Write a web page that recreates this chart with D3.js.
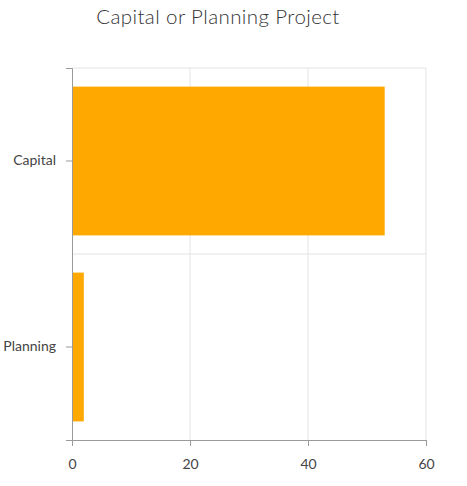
<!DOCTYPE html>
<html>
<head>
<meta charset="utf-8">
<script src="https://cdn.jsdelivr.net/npm/d3@7"></script>
<style>
  html, body { margin: 0; padding: 0; background: #fff; }
  svg { display: block; }
</style>
</head>
<body>
<svg id="chart" width="467" height="486"></svg>
<script>
const categories = ["Capital", "Planning"];
const values = [53, 2];
const xTicks = [0, 20, 40, 60];
const title = "Capital or Planning Project";

const svg = d3.select("#chart");
const margin = { left: 72, right: 41, top: 68, bottom: 46 };
const W = 467, H = 486;
const x = d3.scaleLinear().domain([0, 60]).range([margin.left, W - margin.right]);
const y = d3.scaleBand().domain(categories).range([margin.top, H - margin.bottom])
  .paddingInner(0.2).paddingOuter(0.1);

const font = "Lato, 'Open Sans', sans-serif";

svg.append("text")
  .attr("x", 218).attr("y", 24)
  .attr("text-anchor", "middle")
  .attr("font-family", font)
  .attr("font-size", 20.5)
  .attr("font-weight", 300)
  .attr("letter-spacing", 0.4)
  .attr("fill", "#333")
  .text(title);

// grid
const g = svg.append("g");
g.selectAll(".vg").data(xTicks.slice(1)).join("line")
  .attr("x1", d => x(d)).attr("x2", d => x(d))
  .attr("y1", margin.top).attr("y2", H - margin.bottom)
  .attr("stroke", "#e3e3e3").attr("stroke-width", 1);
const bandEdges = [margin.top, (y(categories[0]) + y.bandwidth() + y(categories[1])) / 2];
g.selectAll(".hg").data(bandEdges).join("line")
  .attr("x1", x(0)).attr("x2", x(60))
  .attr("y1", d => d).attr("y2", d => d)
  .attr("stroke", "#e3e3e3").attr("stroke-width", 1);

// bars
svg.selectAll(".bar").data(categories).join("rect")
  .attr("x", x(0))
  .attr("y", d => y(d))
  .attr("width", (d, i) => x(values[i]) - x(0))
  .attr("height", y.bandwidth())
  .attr("fill", "#ffa900");

// x axis
const xAxis = svg.append("g")
  .attr("transform", `translate(0,${H - margin.bottom})`)
  .call(d3.axisBottom(x).tickValues(xTicks).tickSizeOuter(0).tickSize(6).tickPadding(13));
xAxis.select(".domain").attr("stroke", "#9a9a9a");
xAxis.selectAll(".tick line").attr("stroke", "#9a9a9a");
xAxis.selectAll("text").attr("font-family", font).attr("font-size", 14).attr("fill", "#444");

// y axis
const yAxis = svg.append("g")
  .attr("transform", `translate(${margin.left},0)`)
  .call(d3.axisLeft(y).tickSizeOuter(0).tickSize(6).tickPadding(10));
yAxis.select(".domain").attr("stroke", "#9a9a9a");
yAxis.selectAll(".tick line").attr("stroke", "#9a9a9a");
yAxis.selectAll("text").attr("font-family", font).attr("font-size", 14).attr("fill", "#444");
</script>
</body>
</html>
